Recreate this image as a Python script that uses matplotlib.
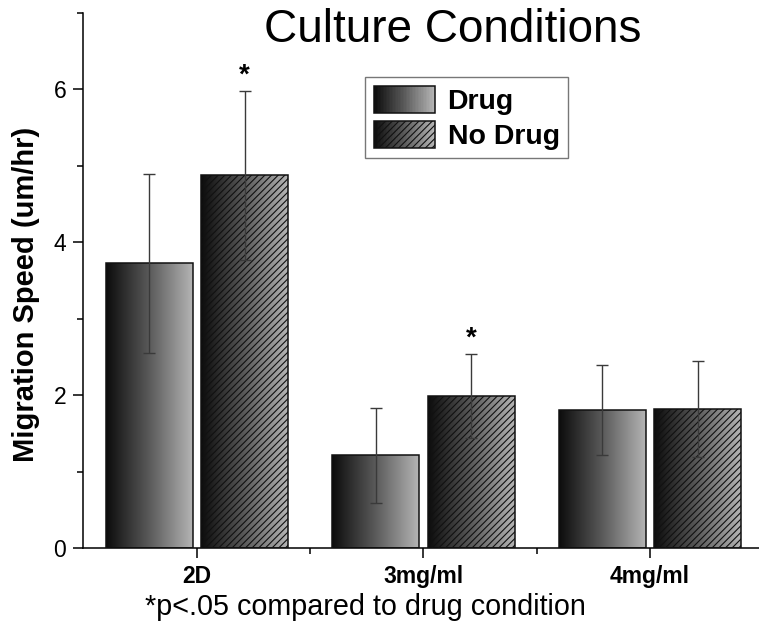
import numpy as np
import matplotlib
matplotlib.use("Agg")
import matplotlib.pyplot as plt
from matplotlib.colors import LinearSegmentedColormap
from matplotlib.patches import Rectangle, Patch
from matplotlib.legend_handler import HandlerBase
from matplotlib.ticker import MultipleLocator, FixedLocator

plt.rcParams['font.family'] = ['Liberation Sans', 'DejaVu Sans']
plt.rcParams['hatch.linewidth'] = 0.8

categories = ['2D', '3mg/ml', '4mg/ml']
series_names = ['Drug', 'No Drug']
drug_mean = [3.72, 1.21, 1.80]
drug_err = [1.17, 0.62, 0.59]
nodrug_mean = [4.87, 1.99, 1.82]
nodrug_err = [1.11, 0.55, 0.63]
significant = [True, True, False]  # star above No Drug bar
title = 'Culture Conditions'
ylabel = 'Migration Speed (um/hr)'
footnote = '*p<.05 compared to drug condition'

cmap = LinearSegmentedColormap.from_list('g', ['#0c0c0c', '#5a5a5a', '#b4b4b4'])
grad = np.linspace(0, 1, 256).reshape(1, -1)

W, H = 759, 629
fig = plt.figure(figsize=(W / 100, H / 100), dpi=100)
ax = fig.add_axes([83 / W, 1 - 548 / H, (W - 83) / W, (548 - 12.5) / H])

x = np.arange(len(categories))
bw = 0.384
off = 0.21


def grad_bars(xs, heights, hatch):
    bars = ax.bar(xs, heights, width=bw, facecolor='none', edgecolor='#111111',
                  linewidth=1.1, hatch=hatch, zorder=3)
    for b in bars:
        bx, by = b.get_x(), b.get_y()
        im = ax.imshow(grad, cmap=cmap, aspect='auto', interpolation='bilinear',
                       extent=[bx, bx + b.get_width(), by, by + b.get_height()], zorder=2)
        im.set_clip_path(b)
    return bars


grad_bars(x - off, drug_mean, '')
grad_bars(x + off, nodrug_mean, '/////')

ek = dict(fmt='none', ecolor='#3a3a3a', elinewidth=1.0, capsize=4.6, capthick=1.0, zorder=4)
ax.errorbar(x - off, drug_mean, yerr=drug_err, **ek)
ax.errorbar(x + off, nodrug_mean, yerr=nodrug_err, **ek)

for i, s in enumerate(significant):
    if s:
        ax.text(x[i] + off, nodrug_mean[i] + nodrug_err[i] + 0.03, '*', ha='center',
                va='bottom', fontsize=20, fontweight='bold')

ax.set_xlim(-0.503, 2.481)
ax.set_ylim(0, 7)
ax.set_xticks(x)
ax.set_xticklabels(categories, fontweight='bold', fontsize=16)
ax.xaxis.set_minor_locator(FixedLocator([0.5, 1.5]))
ax.yaxis.set_major_locator(MultipleLocator(2))
ax.yaxis.set_minor_locator(MultipleLocator(1))
ax.tick_params(axis='both', which='major', direction='out', length=7, width=1.1,
               labelsize=16.5, pad=5)
ax.tick_params(axis='both', which='minor', direction='out', length=4, width=1.1)
for sp in ['top', 'right']:
    ax.spines[sp].set_visible(False)
for sp in ['left', 'bottom']:
    ax.spines[sp].set_linewidth(1.1)

fig.text(26 / W, 1 - 294 / H, ylabel, rotation=90, ha='center', va='center',
         fontsize=21, fontweight='bold')
fig.text(453 / W, 1 - 30 / H, title, ha='center', va='center', fontsize=33)
fig.text(365 / W, 1 - 607 / H, footnote, ha='center', va='center', fontsize=20.7)


class GradHandler(HandlerBase):
    def __init__(self, hatch):
        super().__init__()
        self.hatch = hatch

    def create_artists(self, legend, orig_handle, xdescent, ydescent, width, height,
                       fontsize, trans):
        arts = []
        n = 40
        x0, y0 = -xdescent, -ydescent
        for i in range(n):
            r = Rectangle((x0 + width * i / n, y0), width / n * 1.05, height,
                          facecolor=cmap(i / (n - 1)), linewidth=0,
                          antialiased=False, transform=trans)
            arts.append(r)
        outline = Rectangle((x0, y0), width, height, facecolor='none',
                            edgecolor='#111111', linewidth=1.1, hatch=self.hatch,
                            transform=trans)
        arts.append(outline)
        return arts


h1 = Patch(label=series_names[0])
h2 = Patch(label=series_names[1])
leg = ax.legend(handles=[h1, h2], labels=series_names,
                handler_map={h1: GradHandler(''), h2: GradHandler('/////')},
                loc='upper left', bbox_to_anchor=(365 / W, 1 - 77 / H),
                bbox_transform=fig.transFigure,
                prop={'weight': 'bold', 'size': 20.5},
                handlelength=2.15, handleheight=1.1, handletextpad=0.45,
                labelspacing=0.2, borderpad=0.3, borderaxespad=0,
                fancybox=False, frameon=True)
leg.get_frame().set_edgecolor('#555555')
leg.get_frame().set_linewidth(1.0)

fig.savefig('out.png', dpi=100)
